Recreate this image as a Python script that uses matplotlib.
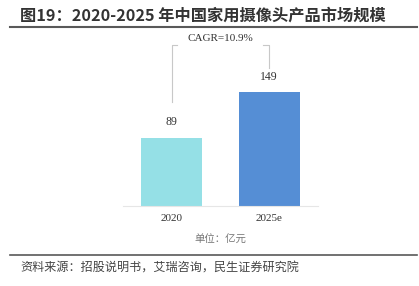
import matplotlib
matplotlib.use('Agg')
import matplotlib.pyplot as plt
from matplotlib.lines import Line2D

# data
years = ['2020', '2025e']
sizes = [89, 149]
cagr = 'CAGR=10.9%'
bar_colors = ['#95E0E6', '#558ED5']

cjk = ['Noto Sans CJK SC', 'DejaVu Sans']
serif = ['Liberation Serif', 'DejaVu Serif']

fig = plt.figure(figsize=(4.19, 2.86), dpi=100)

# bar chart
ax = fig.add_axes([0.293, 0.2808, 0.466, 0.614])
x = range(len(years))
ax.bar(x, sizes, width=0.622, color=bar_colors, zorder=2)
for i, v in enumerate(sizes):
    ax.annotate(str(v), (i, v), xytext=(0, 7), textcoords='offset points',
                ha='center', va='bottom', fontsize=8.5, family=serif, color='#333333')
ax.set_xlim(-0.5, 1.5)
ax.set_ylim(0, 231)
ax.set_xticks(list(x))
ax.set_xticklabels(years, family=serif, fontsize=8, color='#333333')
ax.tick_params(axis='x', length=0, pad=6)
ax.set_yticks([])
for s in ['top', 'right', 'left']:
    ax.spines[s].set_visible(False)
ax.spines['bottom'].set_color('#e6e6e6')
ax.spines['bottom'].set_linewidth(0.8)

# CAGR bracket
bc = '#c8c8c8'
ax.plot([0, 0, 0.06], [136, 211, 211], color=bc, lw=0.8, clip_on=False)
ax.plot([0.94, 1, 1], [211, 211, 181], color=bc, lw=0.8, clip_on=False)
ax.text(0.5, 220, cagr, ha='center', va='center', fontsize=8, family=serif, color='#333333')

# title and frame lines
fig.text(20 / 419, 1 - 15.5 / 286, '图19：2020-2025 年中国家用摄像头产品市场规模',
         fontsize=11.7, fontweight='bold', family=cjk, color='#333333',
         ha='left', va='center')
fig.add_artist(Line2D([10 / 419, 417 / 419], [1 - 27 / 286] * 2, color='#595959', lw=1.5))
fig.add_artist(Line2D([10 / 419, 417 / 419], [1 - 255 / 286] * 2, color='#595959', lw=1.2))

fig.text(220 / 419, 1 - 240 / 286, '单位：亿元', fontsize=7.5, family=cjk,
         color='#777777', ha='center', va='center')
fig.text(20 / 419, 1 - 268 / 286, '资料来源：招股说明书，艾瑞咨询，民生证券研究院',
         fontsize=8.7, family=cjk, color='#444444', ha='left', va='center')

fig.savefig('out.png', dpi=100)
